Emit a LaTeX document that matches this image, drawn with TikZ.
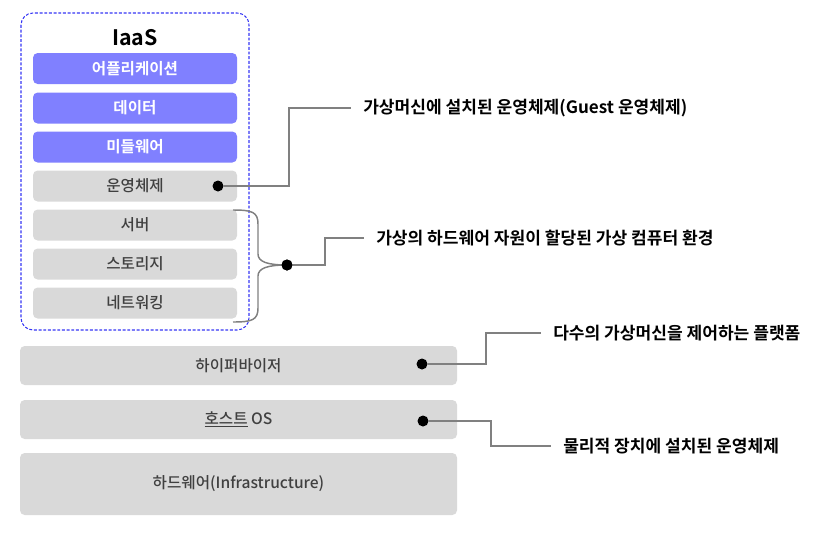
\documentclass[tikz,border=0pt]{standalone}
\usepackage{fontspec}
\setmainfont{Noto Sans CJK KR}[BoldFont={Noto Sans CJK KR Bold}]
\newfontfamily\layerfont{Noto Sans CJK KR Medium}
\usepackage{tikz}
\usetikzlibrary{calc, positioning}
\definecolor{iaasblue}{HTML}{3535F5}
\definecolor{layerpurple}{HTML}{8080FF}
\definecolor{layergray}{HTML}{D9D9D9}
\definecolor{layertext}{HTML}{404040}
\definecolor{leadgray}{HTML}{808080}
\tikzset{
  iaasframe/.style = {draw=iaasblue, dash pattern=on 2.2pt off 1.3pt, line width=0.8pt,
                      rounded corners=9pt},
  vmlayer/.style   = {fill=layerpurple, rounded corners=3.5pt, minimum width=153pt,
                      minimum height=23.25pt, inner sep=0pt, text=white,
                      font=\fontsize{11.7}{14}\selectfont\bfseries},
  vmgray/.style    = {vmlayer, fill=layergray, text=layertext,
                      font=\fontsize{11.7}{14}\selectfont\layerfont},
  hostlayer/.style = {fill=layergray, rounded corners=3.5pt, minimum width=327.75pt,
                      minimum height=29.25pt, inner sep=0pt, text=layertext,
                      font=\fontsize{11.7}{14}\selectfont\layerfont},
  pin/.style       = {circle, fill=black, minimum size=8.25pt, inner sep=0pt},
  leader/.style    = {draw=leadgray, line width=1.1pt},
  note/.style      = {anchor=west, inner xsep=9pt, font=\fontsize{12.8}{15}\selectfont\bfseries},
}

\begin{document}
\begin{tikzpicture}[x=0.75pt, y=-0.75pt]
  \useasboundingbox (0,0) rectangle (824,532);
  % IaaS stack
  \draw[iaasframe] (21,13) rectangle (249,330);
  \node[font=\fontsize{16}{19}\selectfont\bfseries] (iaas) at (135,38) {IaaS};
  \node[vmlayer] (app) at (135,68.5) {어플리케이션};
  \node[vmlayer] (data) at (135,108) {데이터};
  \node[vmlayer] (mid) at (135,147) {미들웨어};
  \node[vmgray] (guest) at (135,186) {운영체제};
  \node[vmgray] (srv) at (135,225) {서버};
  \node[vmgray] (stor) at (135,264) {스토리지};
  \node[vmgray] (net) at (135,303) {네트워킹};
  % lower layers
  \node[hostlayer] (hyper) at (238.5,365.5) {하이퍼바이저};
  \node[hostlayer] (hostos) at (238.5,419.5) {\underline{호스트} OS};
  \node[hostlayer, minimum height=46.5pt] (hw) at (238.5,484) {하드웨어(Infrastructure)};
  % pins
  \node[pin] (pinG) at (218,186) {};
  \node[pin] (pinV) at (287,265) {};
  \node[pin] (pinH) at (422,364) {};
  \node[pin] (pinO) at (423,421) {};
  % notes
  \node[note] (labG) at (351,108) {가상머신에 설치된 운영체제(Guest 운영체제)};
  \node[note] (labV) at (364,238) {가상의 하드웨어 자원이 할당된 가상 컴퓨터 환경};
  \node[note] (labH) at (541,333) {다수의 가상머신을 제어하는 플랫폼};
  \node[note] (labO) at (551,446) {물리적 장치에 설치된 운영체제};
  \coordinate (bendG) at (289,108);
  \coordinate (bendV) at (325,238);
  \coordinate (bendH) at (486,333);
  \coordinate (bendO) at (491,446);
  \draw[leader] (pinG.east) -| (bendG) -- (labG.west);
  \draw[leader] (pinV.east) -| (bendV) -- (labV.west);
  \draw[leader] (pinH.east) -| (bendH) -- (labH.west);
  \draw[leader] (pinO.east) -| (bendO) -- (labO.west);
  % brace over server, storage, network
  \coordinate (braceTop) at (233,210);
  \coordinate (braceBot) at (233,322);
  \draw[leader] (braceTop) .. controls (252,210) and (258,212) .. (258,224)
    -- (258,254) .. controls (258,262) and (268,265) .. (pinV.center)
    .. controls (268,265) and (258,268) .. (258,276)
    -- (258,308) .. controls (258,320) and (252,322) .. (braceBot);
  \node[pin] at (pinV) {};
\end{tikzpicture}
\end{document}
